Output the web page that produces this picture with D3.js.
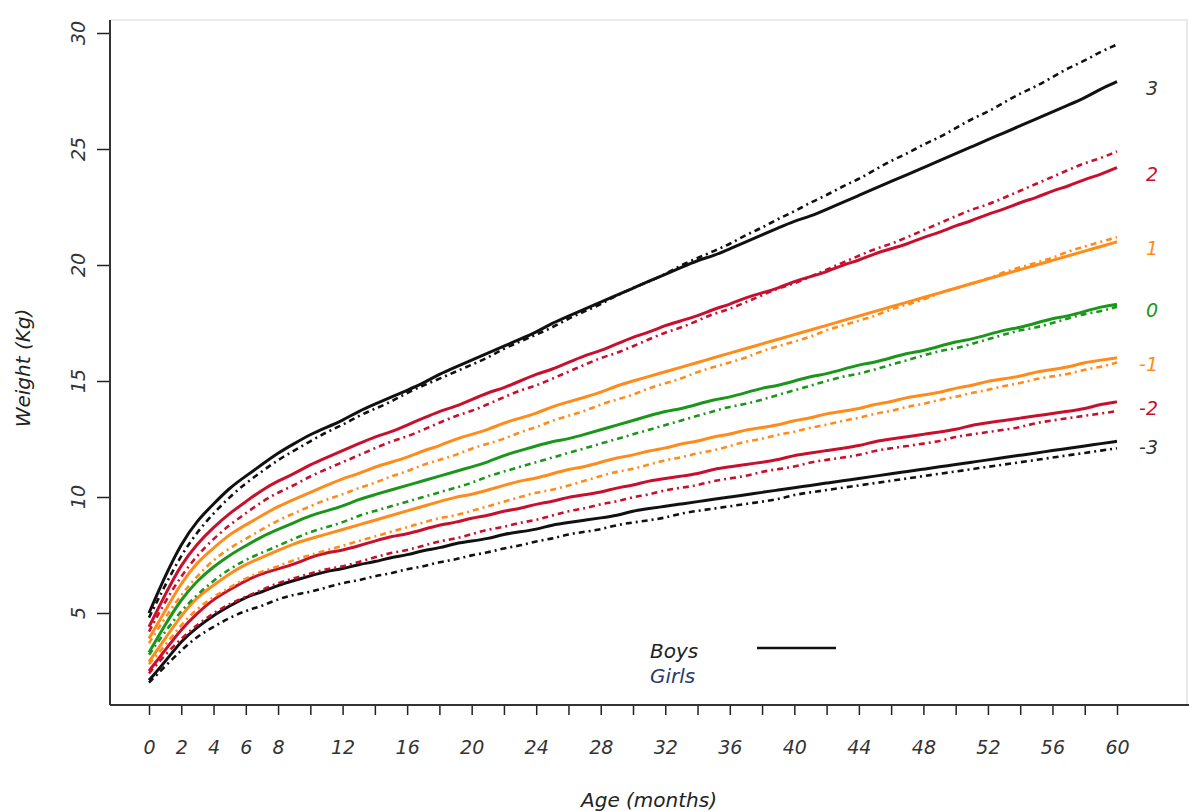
<!DOCTYPE html>
<html>
<head>
<meta charset="utf-8">
<script src="https://cdn.jsdelivr.net/npm/d3@7"></script>
<style>
  html, body { margin: 0; padding: 0; background: #fff; }
  svg text { font-family: "DejaVu Sans", sans-serif; font-style: oblique; }
</style>
</head>
<body>
<svg id="chart" width="1189" height="811"></svg>
<script>
// WHO weight-for-age (kg), months 0..60, z-score curves -3 .. +3
const months = d3.range(0, 61);

const boysSDm3 = [2.1,2.9,3.8,4.4,4.9,5.3,5.7,5.9,6.2,6.4,6.6,6.8,6.9,7.1,7.2,7.4,7.5,7.7,7.8,8.0,8.1,8.2,8.4,8.5,8.6,8.8,8.9,9.0,9.1,9.2,9.4,9.5,9.6,9.7,9.8,9.9,10.0,10.1,10.2,10.3,10.4,10.5,10.6,10.7,10.8,10.9,11.0,11.1,11.2,11.3,11.4,11.5,11.6,11.7,11.8,11.9,12.0,12.1,12.2,12.3,12.4];
const boysSDm2 = [2.5,3.4,4.3,5.0,5.6,6.0,6.4,6.7,6.9,7.1,7.4,7.6,7.7,7.9,8.1,8.3,8.4,8.6,8.8,8.9,9.1,9.2,9.4,9.5,9.7,9.8,10.0,10.1,10.2,10.4,10.5,10.7,10.8,10.9,11.0,11.2,11.3,11.4,11.5,11.6,11.8,11.9,12.0,12.1,12.2,12.4,12.5,12.6,12.7,12.8,12.9,13.1,13.2,13.3,13.4,13.5,13.6,13.7,13.8,14.0,14.1];
const boysSDm1 = [2.9,3.9,4.9,5.7,6.2,6.7,7.1,7.4,7.7,8.0,8.2,8.4,8.6,8.8,9.0,9.2,9.4,9.6,9.8,10.0,10.1,10.3,10.5,10.7,10.8,11.0,11.2,11.3,11.5,11.7,11.8,12.0,12.1,12.3,12.4,12.6,12.7,12.9,13.0,13.1,13.3,13.4,13.6,13.7,13.8,14.0,14.1,14.3,14.4,14.5,14.7,14.8,15.0,15.1,15.2,15.4,15.5,15.6,15.8,15.9,16.0];
const boysSD0  = [3.3,4.5,5.6,6.4,7.0,7.5,7.9,8.3,8.6,8.9,9.2,9.4,9.6,9.9,10.1,10.3,10.5,10.7,10.9,11.1,11.3,11.5,11.8,12.0,12.2,12.4,12.5,12.7,12.9,13.1,13.3,13.5,13.7,13.8,14.0,14.2,14.3,14.5,14.7,14.8,15.0,15.2,15.3,15.5,15.7,15.8,16.0,16.2,16.3,16.5,16.7,16.8,17.0,17.2,17.3,17.5,17.7,17.8,18.0,18.2,18.3];
const boysSD1  = [3.9,5.1,6.3,7.2,7.8,8.4,8.8,9.2,9.6,9.9,10.2,10.5,10.8,11.0,11.3,11.5,11.7,12.0,12.2,12.5,12.7,12.9,13.2,13.4,13.6,13.9,14.1,14.3,14.5,14.8,15.0,15.2,15.4,15.6,15.8,16.0,16.2,16.4,16.6,16.8,17.0,17.2,17.4,17.6,17.8,18.0,18.2,18.4,18.6,18.8,19.0,19.2,19.4,19.6,19.8,20.0,20.2,20.4,20.6,20.8,21.0];
const boysSD2  = [4.4,5.8,7.1,8.0,8.7,9.3,9.8,10.3,10.7,11.0,11.4,11.7,12.0,12.3,12.6,12.8,13.1,13.4,13.7,13.9,14.2,14.5,14.7,15.0,15.3,15.5,15.8,16.1,16.3,16.6,16.9,17.1,17.4,17.6,17.8,18.1,18.3,18.6,18.8,19.0,19.3,19.5,19.7,20.0,20.2,20.5,20.7,20.9,21.2,21.4,21.7,21.9,22.2,22.4,22.7,22.9,23.2,23.4,23.7,23.9,24.2];
const boysSD3  = [5.0,6.6,8.0,9.0,9.7,10.4,10.9,11.4,11.9,12.3,12.7,13.0,13.3,13.7,14.0,14.3,14.6,14.9,15.3,15.6,15.9,16.2,16.5,16.8,17.1,17.5,17.8,18.1,18.4,18.7,19.0,19.3,19.6,19.9,20.2,20.4,20.7,21.0,21.3,21.6,21.9,22.1,22.4,22.7,23.0,23.3,23.6,23.9,24.2,24.5,24.8,25.1,25.4,25.7,26.0,26.3,26.6,26.9,27.2,27.6,27.9];

const girlsSDm3 = [2.0,2.7,3.4,4.0,4.4,4.8,5.1,5.3,5.6,5.8,5.9,6.1,6.3,6.4,6.6,6.7,6.9,7.0,7.2,7.3,7.5,7.6,7.8,7.9,8.1,8.2,8.4,8.5,8.6,8.8,8.9,9.0,9.1,9.3,9.4,9.5,9.6,9.7,9.8,9.9,10.1,10.2,10.3,10.4,10.5,10.6,10.7,10.8,10.9,11.0,11.1,11.2,11.3,11.4,11.5,11.6,11.7,11.8,11.9,12.0,12.1];
const girlsSDm2 = [2.4,3.2,3.9,4.5,5.0,5.4,5.7,6.0,6.3,6.5,6.7,6.9,7.0,7.2,7.4,7.6,7.7,7.9,8.1,8.2,8.4,8.6,8.7,8.9,9.0,9.2,9.4,9.5,9.7,9.8,10.0,10.1,10.3,10.4,10.5,10.7,10.8,10.9,11.1,11.2,11.3,11.5,11.6,11.7,11.8,12.0,12.1,12.2,12.3,12.4,12.6,12.7,12.8,12.9,13.0,13.2,13.3,13.4,13.5,13.6,13.7];
const girlsSDm1 = [2.8,3.6,4.5,5.2,5.7,6.1,6.5,6.8,7.0,7.3,7.5,7.7,7.9,8.1,8.3,8.5,8.7,8.9,9.1,9.2,9.4,9.6,9.8,10.0,10.2,10.3,10.5,10.7,10.9,11.1,11.2,11.4,11.6,11.7,11.9,12.0,12.2,12.4,12.5,12.7,12.8,13.0,13.1,13.3,13.4,13.6,13.7,13.9,14.0,14.2,14.3,14.5,14.6,14.8,14.9,15.1,15.2,15.3,15.5,15.6,15.8];
const girlsSD0  = [3.2,4.2,5.1,5.8,6.4,6.9,7.3,7.6,7.9,8.2,8.5,8.7,8.9,9.2,9.4,9.6,9.8,10.0,10.2,10.4,10.6,10.9,11.1,11.3,11.5,11.7,11.9,12.1,12.3,12.5,12.7,12.9,13.1,13.3,13.5,13.7,13.9,14.0,14.2,14.4,14.6,14.8,15.0,15.2,15.3,15.5,15.7,15.9,16.1,16.3,16.4,16.6,16.8,17.0,17.2,17.3,17.5,17.7,17.9,18.0,18.2];
const girlsSD1  = [3.7,4.8,5.8,6.6,7.3,7.8,8.2,8.6,9.0,9.3,9.6,9.9,10.1,10.4,10.6,10.9,11.1,11.4,11.6,11.8,12.1,12.3,12.5,12.8,13.0,13.3,13.5,13.7,14.0,14.2,14.4,14.7,14.9,15.1,15.4,15.6,15.8,16.0,16.3,16.5,16.7,16.9,17.2,17.4,17.6,17.8,18.1,18.3,18.5,18.8,19.0,19.2,19.4,19.7,19.9,20.1,20.3,20.6,20.8,21.0,21.2];
const girlsSD2  = [4.2,5.5,6.6,7.5,8.2,8.8,9.3,9.8,10.2,10.5,10.9,11.2,11.5,11.8,12.1,12.4,12.6,12.9,13.2,13.5,13.7,14.0,14.3,14.6,14.8,15.1,15.4,15.7,16.0,16.2,16.5,16.8,17.1,17.3,17.6,17.9,18.1,18.4,18.7,19.0,19.2,19.5,19.8,20.1,20.4,20.7,20.9,21.2,21.5,21.8,22.1,22.4,22.6,22.9,23.2,23.5,23.8,24.1,24.4,24.6,24.9];
const girlsSD3  = [4.8,6.2,7.5,8.5,9.3,10.0,10.6,11.1,11.6,12.0,12.4,12.8,13.1,13.5,13.8,14.1,14.5,14.8,15.1,15.4,15.7,16.0,16.4,16.7,17.0,17.3,17.7,18.0,18.3,18.7,19.0,19.3,19.6,20.0,20.3,20.6,20.9,21.3,21.6,22.0,22.3,22.7,23.0,23.4,23.7,24.1,24.5,24.8,25.2,25.5,25.9,26.3,26.6,27.0,27.4,27.7,28.1,28.5,28.8,29.2,29.5];

const zScores   = [3, 2, 1, 0, -1, -2, -3];
const zLabels   = ["3", "2", "1", "0", "-1", "-2", "-3"];
const zColors   = ["#111111", "#c8102e", "#ff8c1a", "#1a961a", "#ff8c1a", "#c8102e", "#111111"];
const boysSeries  = [boysSD3, boysSD2, boysSD1, boysSD0, boysSDm1, boysSDm2, boysSDm3];
const girlsSeries = [girlsSD3, girlsSD2, girlsSD1, girlsSD0, girlsSDm1, girlsSDm2, girlsSDm3];

const xTickValues  = d3.range(0, 61, 2);
const xTickLabels  = [0, 2, 4, 6, 8, 12, 16, 20, 24, 28, 32, 36, 40, 44, 48, 52, 56, 60];
const yTickValues  = [5, 10, 15, 20, 25, 30];

const svg = d3.select("#chart");
const W = 1189, H = 811;
const axisX = 110, axisY = 705;

const x = d3.scaleLinear().domain([0, 60]).range([149, 1117]);
const y = d3.scaleLinear().domain([10, 30]).range([497, 33]);

// faint plot-region frame
svg.append("path")
  .attr("d", `M${axisX},20 H${W - 2} V${axisY}`)
  .attr("fill", "none").attr("stroke", "#e4e4e4").attr("stroke-width", 1.5);

// x axis
const xAxis = d3.axisBottom(x)
  .tickValues(xTickValues)
  .tickSize(10)
  .tickPadding(26)
  .tickFormat(d => xTickLabels.includes(d) ? d : "");
const gx = svg.append("g").attr("transform", `translate(0,${axisY})`).call(xAxis);
gx.select(".domain").remove();
gx.selectAll(".tick line").attr("stroke", "#222").attr("stroke-width", 1.5);
gx.selectAll(".tick text").attr("fill", "#333").attr("font-size", 19)
  .style("font-family", "DejaVu Sans").style("font-style", "oblique");
svg.append("line").attr("x1", axisX).attr("x2", W).attr("y1", axisY).attr("y2", axisY)
  .attr("stroke", "#333").attr("stroke-width", 2);

// y axis
const yAxis = d3.axisLeft(y).tickValues(yTickValues).tickSize(13).tickFormat("");
const gy = svg.append("g").attr("transform", `translate(${axisX},0)`).call(yAxis);
gy.select(".domain").remove();
gy.selectAll(".tick line").attr("stroke", "#222").attr("stroke-width", 1.5);
svg.append("line").attr("x1", axisX).attr("x2", axisX).attr("y1", 20).attr("y2", axisY)
  .attr("stroke", "#333").attr("stroke-width", 2);
svg.append("g").selectAll("text").data(yTickValues).join("text")
  .attr("transform", d => `translate(85,${y(d)}) rotate(-90)`)
  .attr("text-anchor", "middle")
  .attr("font-size", 19).attr("fill", "#333")
  .text(d => d);

// axis titles
svg.append("text")
  .attr("transform", "translate(30,368) rotate(-90)")
  .attr("text-anchor", "middle").attr("font-size", 20).attr("fill", "#222")
  .text("Weight (Kg)");
svg.append("text")
  .attr("x", 649).attr("y", 807)
  .attr("text-anchor", "middle").attr("font-size", 20).attr("fill", "#222")
  .text("Age (months)");

// curves, smoothed over the monthly table values
const line = d3.line()
  .x((d, i) => x(months[i]))
  .y(d => y(d))
  .curve(d3.curveBasis);

const curves = svg.append("g");
boysSeries.forEach((s, k) => {
  curves.append("path").attr("d", line(s))
    .attr("fill", "none").attr("stroke", zColors[k])
    .attr("stroke-width", 3).attr("stroke-linejoin", "round");
});
girlsSeries.forEach((s, k) => {
  curves.append("path").attr("d", line(s))
    .attr("fill", "none").attr("stroke", zColors[k])
    .attr("stroke-width", 2.6)
    .attr("stroke-dasharray", "6,4,2,4");
});

// z-score labels at the right end of the boys' curves
svg.append("g").selectAll("text").data(zScores).join("text")
  .attr("x", 1158)
  .attr("y", (d, k) => y(boysSeries[k][60]) + 13)
  .attr("text-anchor", "end")
  .attr("font-size", 19)
  .attr("fill", (d, k) => zColors[k] === "#111111" ? "#333" : zColors[k])
  .text((d, k) => zLabels[k]);

// legend
const legend = svg.append("g");
legend.append("text").attr("x", 650).attr("y", 658).attr("font-size", 20).attr("fill", "#222").text("Boys");
legend.append("text").attr("x", 650).attr("y", 683).attr("font-size", 20).attr("fill", "#2a3a70").text("Girls");
legend.append("line").attr("x1", 757).attr("x2", 836).attr("y1", 648).attr("y2", 648)
  .attr("stroke", "#111").attr("stroke-width", 2.5);
</script>
</body>
</html>
